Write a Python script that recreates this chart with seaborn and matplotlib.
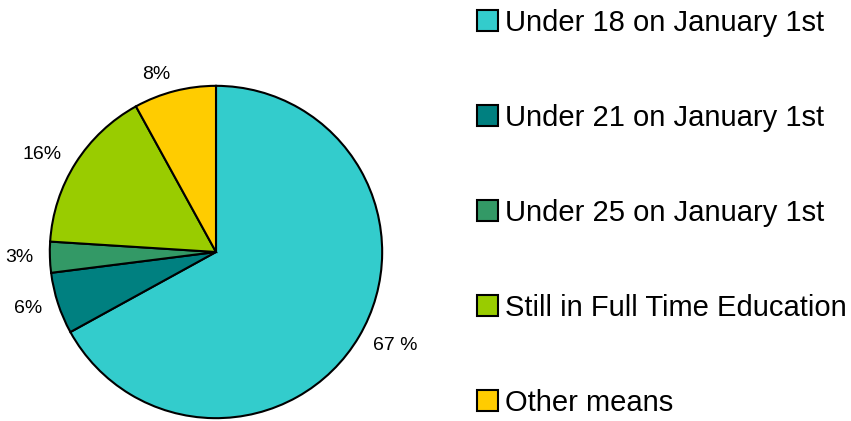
import matplotlib
matplotlib.use('Agg')
from matplotlib import pyplot as plt
import seaborn as sns

sns.set_style('white')
plt.rcParams['font.family'] = ['Liberation Sans', 'DejaVu Sans']
plt.rcParams['text.color'] = 'black'

categories = ['Under 18 on January 1st', 'Under 21 on January 1st',
              'Under 25 on January 1st', 'Still in Full Time Education',
              'Other means']
values = [67, 6, 3, 16, 8]
pct_labels = ['67 %', '6%', '3%', '16%', '8%']
colors = ['#33CCCC', '#008080', '#339966', '#99CC00', '#FFCC00']

fig = plt.figure(figsize=(8.51, 4.21), dpi=100)
ax = fig.add_axes([49 / 851, 2 / 421, 334 / 851, 334 / 421])

wedges, texts = ax.pie(values, labels=pct_labels, colors=colors,
                       startangle=90, counterclock=False,
                       labeldistance=1.1,
                       wedgeprops={'edgecolor': 'black', 'linewidth': 1.5},
                       textprops={'fontsize': 14, 'color': 'black'})
ax.set_xlim(-1.005, 1.005)
ax.set_ylim(-1.005, 1.005)
ax.set_aspect('equal')
for t in texts:
    t.set_clip_on(False)

fig.legend(wedges, categories, loc='upper left',
           bbox_to_anchor=(465 / 851, 1.0 + 3 / 421), frameon=False,
           fontsize=21, handlelength=0.72, handleheight=0.72,
           handletextpad=0.25, labelspacing=2.3, borderaxespad=0)

fig.savefig('out.png', dpi=100)
